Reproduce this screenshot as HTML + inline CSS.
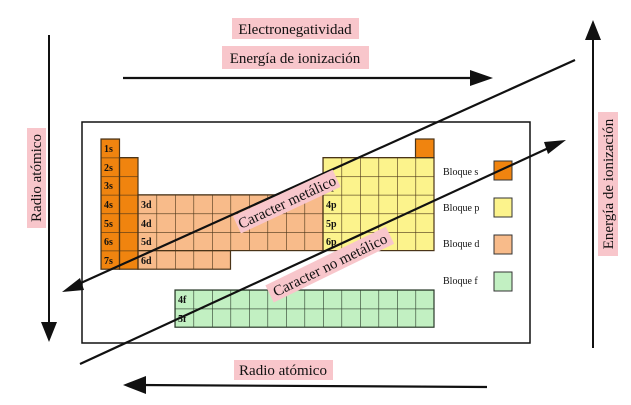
<!DOCTYPE html>
<html><head><meta charset="utf-8"><style>
html,body{margin:0;padding:0;background:#fff}
svg{display:block}
text{font-family:"Liberation Serif",serif;fill:#111}
</style></head><body>
<svg width="631" height="405" viewBox="0 0 631 405" xmlns="http://www.w3.org/2000/svg">
<defs>
<pattern id="g1" x="101" y="139" width="18.5" height="18.6" patternUnits="userSpaceOnUse">
<path d="M0 0H18.5M0 0V18.6" stroke="#4a3418" stroke-width="1.2" fill="none"/>
</pattern>
<pattern id="g2" x="175" y="290" width="18.5" height="18.6" patternUnits="userSpaceOnUse">
<path d="M0 0H18.5M0 0V18.6" stroke="#2a3a2a" stroke-width="1.2" fill="none"/>
</pattern>
</defs>
<rect width="631" height="405" fill="#fff"/>
<!-- box -->
<rect x="82" y="122" width="448" height="221" fill="#fff" stroke="#111" stroke-width="1.5"/>
<!-- blocks -->
<g stroke="#4a3418" stroke-width="1.2">
<rect x="101" y="139" width="18.5" height="130.2" fill="#f0840f"/>
<rect x="119.5" y="157.6" width="18.5" height="111.6" fill="#f0840f"/>
<rect x="138" y="194.8" width="185" height="55.8" fill="#f8bb8a"/>
<rect x="138" y="250.6" width="92.5" height="18.6" fill="#f8bb8a"/>
<rect x="323" y="157.6" width="111" height="93" fill="#fcf38c"/>
<rect x="415.5" y="139" width="18.5" height="18.6" fill="#f0840f"/>
<rect x="175" y="290" width="259" height="37.2" fill="#c2f0c2" stroke="#2a3a2a"/>
</g>
<g fill="url(#g1)">
<rect x="101" y="139" width="18.5" height="130.2"/>
<rect x="119.5" y="157.6" width="18.5" height="111.6"/>
<rect x="138" y="194.8" width="185" height="55.8"/>
<rect x="138" y="250.6" width="92.5" height="18.6"/>
<rect x="323" y="157.6" width="111" height="93"/>
</g>
<rect x="175" y="290" width="259" height="37.2" fill="url(#g2)"/>
<g font-size="10" font-weight="bold">
<text x="104" y="152">1s</text><text x="104" y="171">2s</text><text x="104" y="189">3s</text>
<text x="104" y="208">4s</text><text x="104" y="227">5s</text><text x="104" y="245">6s</text><text x="104" y="264">7s</text>
<text x="141" y="208">3d</text><text x="141" y="227">4d</text><text x="141" y="245">5d</text><text x="141" y="264">6d</text>
<text x="326" y="189">3p</text><text x="326" y="208">4p</text><text x="326" y="227">5p</text><text x="326" y="245">6p</text>
<text x="178" y="303">4f</text><text x="178" y="322">5f</text>
</g>
<!-- legend -->
<g font-size="10">
<text x="443" y="175">Bloque s</text><text x="443" y="211">Bloque p</text>
<text x="443" y="247">Bloque d</text><text x="443" y="284">Bloque f</text>
</g>
<rect x="494" y="161" width="18" height="19" fill="#f0840f" stroke="#333"/>
<rect x="494" y="198" width="18" height="19" fill="#fcf38c" stroke="#333"/>
<rect x="494" y="235" width="18" height="19" fill="#f8bb8a" stroke="#333"/>
<rect x="494" y="272" width="18" height="19" fill="#c2f0c2" stroke="#333"/>
<!-- diagonal lines -->
<line x1="575" y1="60" x2="72" y2="287" stroke="#111" stroke-width="2.2"/>
<polygon points="62,292 80,278 84,290" fill="#111"/>
<line x1="80" y1="364" x2="555" y2="145" stroke="#111" stroke-width="2.2"/>
<polygon points="566,140 548,154 544,142" fill="#111"/>
<g transform="translate(287,202) rotate(-25)">
<rect x="-55" y="-10" width="110" height="19" fill="#f8c6cb"/>
<text x="0" y="5" font-size="15" text-anchor="middle">Caracter metálico</text>
</g>
<g transform="translate(330,265) rotate(-26)">
<rect x="-67" y="-10" width="134" height="19" fill="#f8c6cb"/>
<text x="0" y="5" font-size="15" text-anchor="middle">Caracter no metálico</text>
</g>
<!-- top arrow -->
<line x1="123" y1="78" x2="480" y2="78" stroke="#111" stroke-width="2.2"/>
<polygon points="493,78 470,70 470,86" fill="#111"/>
<rect x="232" y="18" width="127" height="21" fill="#f8c6cb"/>
<text x="295" y="34" font-size="15" text-anchor="middle">Electronegatividad</text>
<rect x="222" y="46" width="147" height="23" fill="#f8c6cb"/>
<text x="295" y="63" font-size="15" text-anchor="middle">Energía de ionización</text>
<!-- left arrow -->
<line x1="49" y1="35" x2="49" y2="325" stroke="#111" stroke-width="2"/>
<polygon points="49,342 41,322 57,322" fill="#111"/>
<g transform="translate(36,178) rotate(-90)">
<rect x="-50" y="-9" width="100" height="19" fill="#f8c6cb"/>
<text x="0" y="5" font-size="15" text-anchor="middle">Radio atómico</text>
</g>
<!-- right arrow -->
<line x1="593" y1="40" x2="593" y2="348" stroke="#111" stroke-width="2"/>
<polygon points="593,20 585,40 601,40" fill="#111"/>
<g transform="translate(608,184) rotate(-90)">
<rect x="-72" y="-10" width="144" height="20" fill="#f8c6cb"/>
<text x="0" y="5" font-size="15" text-anchor="middle">Energía de ionización</text>
</g>
<!-- bottom arrow -->
<line x1="487" y1="387" x2="138" y2="385" stroke="#111" stroke-width="2.2"/>
<polygon points="123,385 146,376 146,394" fill="#111"/>
<rect x="234" y="360" width="99" height="20" fill="#f8c6cb"/>
<text x="283" y="375" font-size="15" text-anchor="middle">Radio atómico</text>
</svg>
</body></html>
